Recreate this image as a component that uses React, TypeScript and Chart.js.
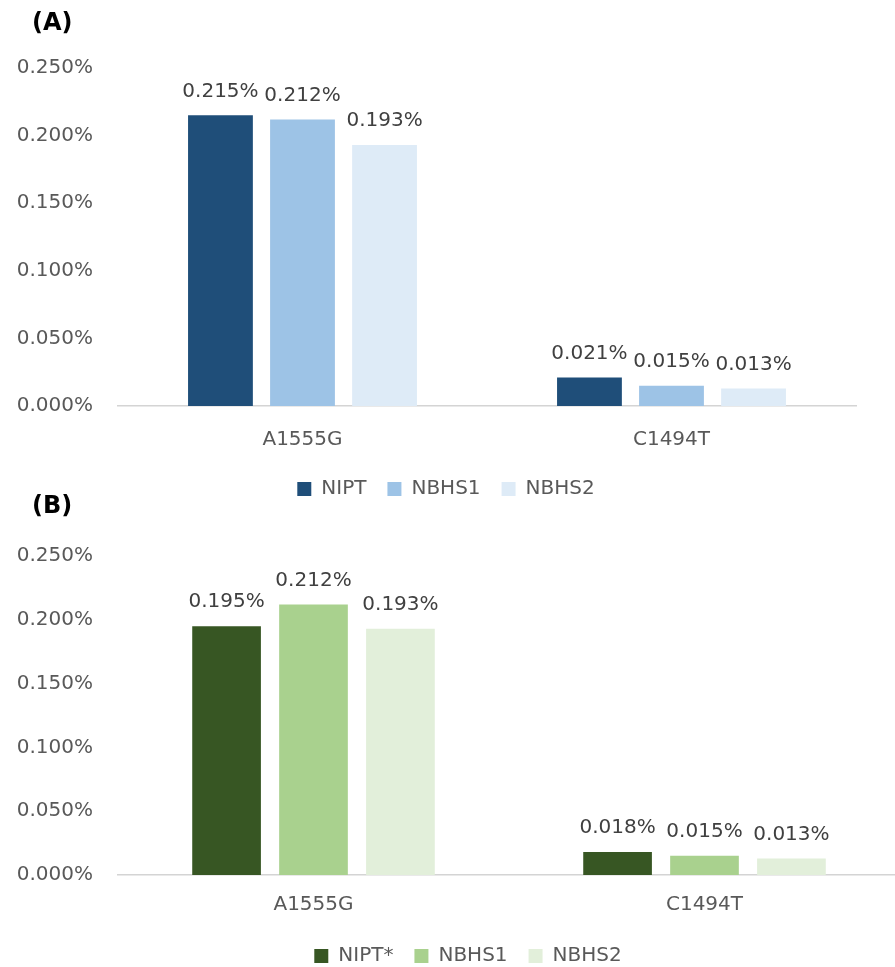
import React, { useEffect, useRef } from "react";
import { Chart, registerables } from "chart.js";

Chart.register(...registerables);

// Variant categories and series
const categories = ["A1555G", "C1494T"];
const seriesNamesA = ["NIPT", "NBHS1", "NBHS2"];
const seriesNamesB = ["NIPT*", "NBHS1", "NBHS2"];

// Carrier frequencies, in percent
const niptValues = [0.215, 0.021];
const niptStarValues = [0.195, 0.018];
const nbhs1Values = [0.212, 0.015];
const nbhs2Values = [0.193, 0.013];

// Y axis range and step, in percent
const yMin = 0;
const yMax = 0.25;
const yStep = 0.05;

const bluePalette = ["#1F4E79", "#9DC3E6", "#DEEBF7"];
const greenPalette = ["#375623", "#A9D18E", "#E2EFDA"];

const FONT = "'DejaVu Sans', sans-serif";
const fmt = (v: number) => v.toFixed(3) + "%";

// Writes each bar's value above it
const valueLabels = {
  id: "valueLabels",
  afterDatasetsDraw(chart: any, _args: any, opts: any) {
    const ctx = chart.ctx;
    ctx.save();
    ctx.font = `20px ${FONT}`;
    ctx.fillStyle = "#404040";
    ctx.textAlign = "center";
    ctx.textBaseline = "middle";
    chart.data.datasets.forEach((ds: any, i: number) => {
      const meta = chart.getDatasetMeta(i);
      meta.data.forEach((bar: any, j: number) => {
        ctx.fillText(fmt(ds.data[j]), bar.x, bar.y - (opts.offset ?? 24));
      });
    });
    ctx.restore();
  },
};

// Moves the legend sideways without touching the plot area
const legendShift = {
  id: "legendShift",
  afterLayout(chart: any, _args: any, opts: any) {
    const l = chart.legend;
    if (l && opts.dx) {
      l.left += opts.dx;
      l.right += opts.dx;
    }
  },
};

type PanelProps = {
  names: string[];
  series: number[][];
  colors: string[];
  width: number;
  height: number;
  padTop: number;
  padRight: number;
  xAxisHeight: number;
  xPad: number;
  legendDx: number;
};

function Panel(p: PanelProps) {
  const ref = useRef<HTMLCanvasElement | null>(null);
  useEffect(() => {
    if (!ref.current) return;
    const chart = new Chart(ref.current, {
      type: "bar",
      data: {
        labels: categories,
        datasets: p.series.map((data, i) => ({
          label: p.names[i],
          data,
          backgroundColor: p.colors[i],
          borderWidth: 0,
          categoryPercentage: 0.667,
          barPercentage: 0.79,
        })),
      },
      plugins: [valueLabels, legendShift],
      options: {
        responsive: false,
        animation: false,
        devicePixelRatio: 1,
        layout: { padding: { top: p.padTop, right: p.padRight, left: 0, bottom: 0 } },
        scales: {
          x: {
            grid: { display: false, drawTicks: false },
            border: { display: true, color: "#D4D4D4", width: 1.5 },
            ticks: { color: "#595959", font: { family: FONT, size: 20 }, padding: p.xPad },
            afterFit: (s: any) => {
              s.height = p.xAxisHeight;
            },
          },
          y: {
            min: yMin,
            max: yMax,
            grid: { display: false, drawTicks: false },
            border: { display: false },
            ticks: {
              stepSize: yStep,
              color: "#595959",
              font: { family: FONT, size: 20 },
              padding: 25,
              callback: (v: any) => fmt(Number(v)),
            },
            afterFit: (s: any) => {
              s.width = 118;
            },
          },
        },
        plugins: {
          legend: {
            position: "bottom",
            labels: {
              boxWidth: 14,
              boxHeight: 14,
              padding: 21,
              color: "#595959",
              font: { family: FONT, size: 20 },
            },
          },
          tooltip: { enabled: false },
          valueLabels: { offset: 24 },
          legendShift: { dx: p.legendDx },
        } as any,
      },
    });
    return () => chart.destroy();
  }, []);
  return <canvas ref={ref} width={p.width} height={p.height} style={{ display: "block" }} />;
}

const titleStyle: React.CSSProperties = {
  position: "absolute",
  left: 32,
  fontFamily: FONT,
  fontWeight: "bold",
  fontSize: 24,
  lineHeight: "30px",
  color: "#000",
};

export default function App() {
  return (
    <div
      style={{
        position: "absolute",
        left: 0,
        top: 0,
        width: 895,
        height: 967,
        overflow: "hidden",
        background: "#fff",
      }}
    >
      <div style={{ position: "absolute", left: 0, top: 0 }}>
        <Panel
          names={seriesNamesA}
          series={[niptValues, nbhs1Values, nbhs2Values]}
          colors={bluePalette}
          width={895}
          height={509}
          padTop={68}
          padRight={39}
          xAxisHeight={52}
          xPad={22}
          legendDx={18}
        />
      </div>
      <div style={{ position: "absolute", left: 0, top: 470 }}>
        <Panel
          names={seriesNamesB}
          series={[niptStarValues, nbhs1Values, nbhs2Values]}
          colors={greenPalette}
          width={900}
          height={506}
          padTop={86}
          padRight={0}
          xAxisHeight={50}
          xPad={18}
          legendDx={18}
        />
      </div>
      <div style={{ ...titleStyle, top: 7 }}>(A)</div>
      <div style={{ ...titleStyle, top: 490 }}>(B)</div>
    </div>
  );
}
